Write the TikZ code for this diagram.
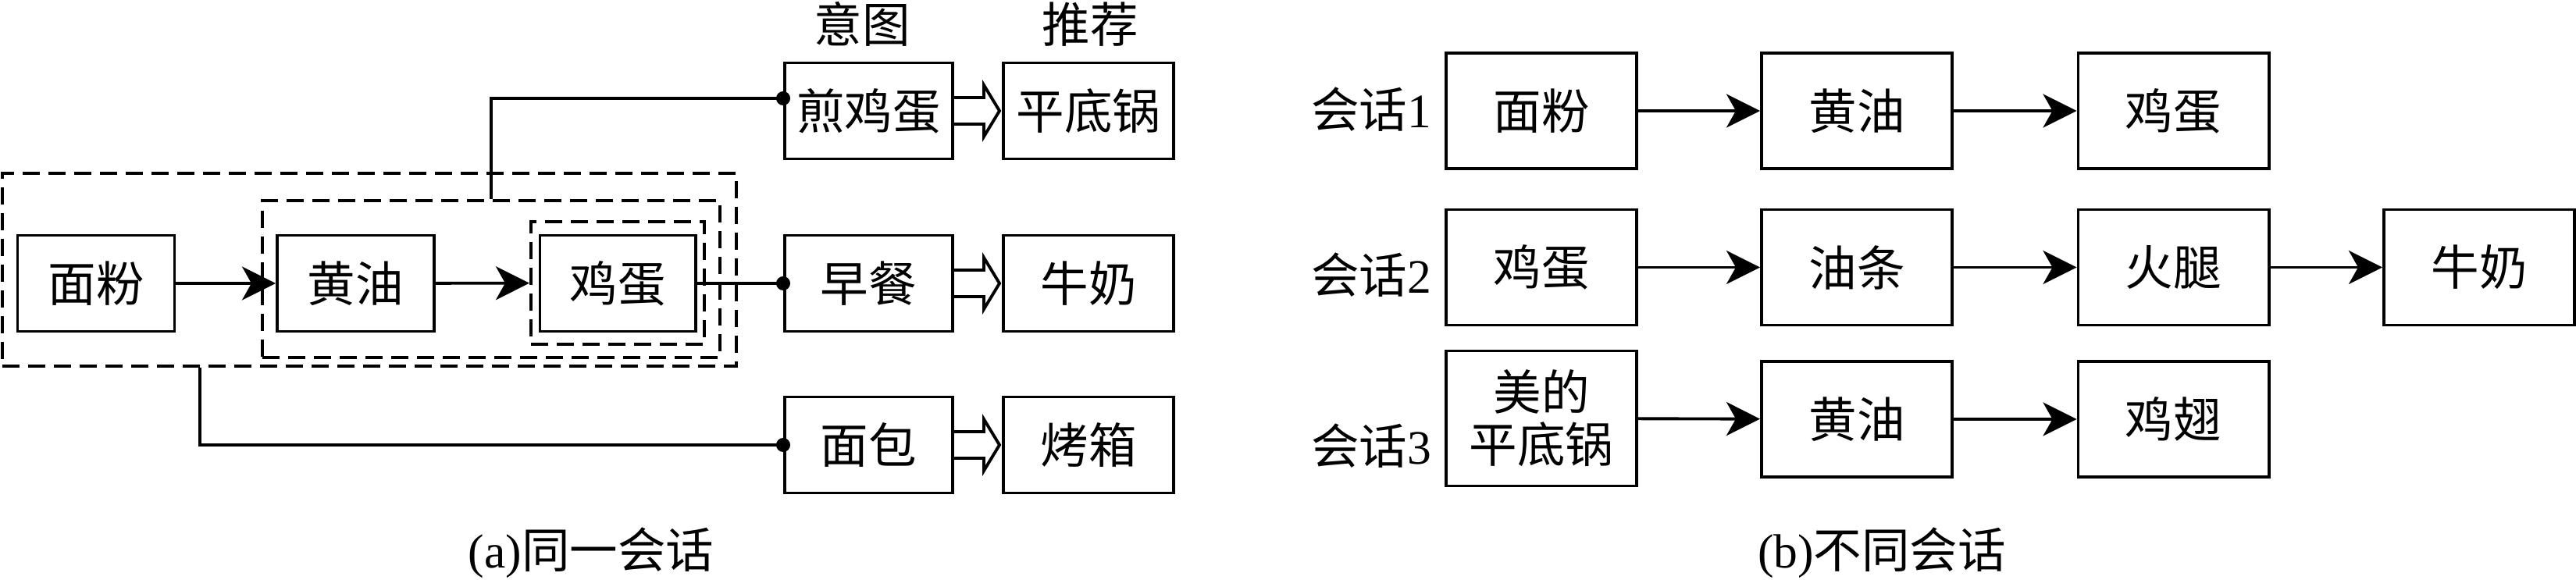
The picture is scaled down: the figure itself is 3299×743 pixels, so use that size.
\documentclass[tikz,border=0pt]{standalone}
\usepackage{fontspec}
\setmainfont{Liberation Serif}
\newfontfamily\cjk{Noto Sans CJK SC}
\usetikzlibrary{arrows.meta,calc}

\tikzset{
  box/.style={draw, line width=1.1pt, inner sep=0pt, minimum height=1.23cm,
    align=center, font=\cjk\fontsize{17.5}{19}\selectfont},
  wbox/.style={box, minimum width=2.44cm, minimum height=1.48cm},
  grp/.style={draw, dash pattern=on 0.22cm off 0.11cm, line width=1.1pt, inner sep=0pt},
  arr/.style={line width=1.1pt, -{Stealth[length=0.43cm,width=0.43cm,inset=0.12cm]}},
  lnk/.style={line width=1.1pt},
  lbl/.style={inner sep=0pt, font=\fontsize{17.5}{19}\selectfont},
}
% hollow double arrow from intent to recommendation
\newcommand\recarrow[2]{%
  \draw[lnk] ($(#1.east)+(0,-17)$) -- ($(#2.west)+(-23,-17)$)
    -- ($(#2.west)+(-23,-33)$) -- ($(#2.west)+(-3,0)$)
    -- ($(#2.west)+(-23,33)$) -- ($(#2.west)+(-23,17)$)
    -- ($(#1.east)+(0,17)$);}

\begin{document}
\begin{tikzpicture}[x=0.01cm, y=-0.01cm]
\useasboundingbox (0,0) rectangle (3299,743);
% (a) one session
\node[box, minimum width=2.01cm] (mianfen) at (123,363) {面粉};
\node[box, minimum width=2.01cm] (huangyou) at (455.5,363) {黄油};
\node[box, minimum width=1.99cm] (jidan) at (791,363) {鸡蛋};
% nested windows
\node[grp, minimum width=2.22cm, minimum height=1.57cm] (gin) at (791,362.5) {};
\node[grp, minimum width=5.86cm, minimum height=2.01cm] (gmid) at (629,357.5) {};
\node[grp, minimum width=9.40cm, minimum height=2.47cm] (gout) at (473,345.5) {};
% intents and recommendations
\node[lbl] (yitu) at (1104,31) {\cjk 意图};
\node[lbl] (tuijian) at (1396,31) {\cjk 推荐};
\node[box, minimum width=2.15cm] (jian) at (1112.5,142) {煎鸡蛋};
\node[box, minimum width=2.18cm] (pingdi) at (1394,142) {平底锅};
\node[box, minimum width=2.15cm] (zaocan) at (1112.5,363) {早餐};
\node[box, minimum width=2.18cm] (niunai) at (1394,363) {牛奶};
\node[box, minimum width=2.15cm] (mianbao) at (1112.5,570) {面包};
\node[box, minimum width=2.18cm] (kaoxiang) at (1394,570) {烤箱};
% links
\draw[arr] (mianfen) -- (huangyou);
\draw[arr] (huangyou) -- (gin);
\draw[lnk] (gmid.north) |- ([yshift=0.16cm]jian.west);
\fill ([yshift=0.16cm]jian.west) circle (0.09cm);
\draw[lnk] (jidan) -- (zaocan);
\fill (zaocan.west) circle (0.09cm);
\draw[lnk] ($(gout.south west)!0.27!(gout.south east)$) |- (mianbao.west);
\fill (mianbao.west) circle (0.09cm);
\recarrow{jian}{pingdi}
\recarrow{zaocan}{niunai}
\recarrow{mianbao}{kaoxiang}
\node[lbl] (capa) at (757,708) {(a){\cjk 同一会话}};

% (b) different sessions
\node[lbl] (hh1) at (1756,140) {{\cjk 会话}1};
\node[lbl] (hh2) at (1756,352) {{\cjk 会话}2};
\node[lbl] (hh3) at (1756,571) {{\cjk 会话}3};
\node[wbox] (a1) at (1974,142) {面粉};
\node[wbox] (a2) at (2378,142) {黄油};
\node[wbox] (a3) at (2783.5,142) {鸡蛋};
\node[wbox] (b1) at (1974,342.5) {鸡蛋};
\node[wbox] (b2) at (2378,342.5) {油条};
\node[wbox] (b3) at (2783.5,342.5) {火腿};
\node[wbox] (b4) at (3175,342.5) {牛奶};
\node[wbox, minimum height=1.73cm] (c1) at (1974,536) {美的\\平底锅};
\node[wbox] (c2) at (2378,537) {黄油};
\node[wbox] (c3) at (2783.5,537) {鸡翅};
\foreach \s/\t in {a1/a2, a2/a3, b1/b2, b2/b3, b3/b4, c1/c2, c2/c3}
  \draw[arr] (\s) -- (\t);
\node[lbl] (capb) at (2410,708) {(b){\cjk 不同会话}};
\end{tikzpicture}
\end{document}
